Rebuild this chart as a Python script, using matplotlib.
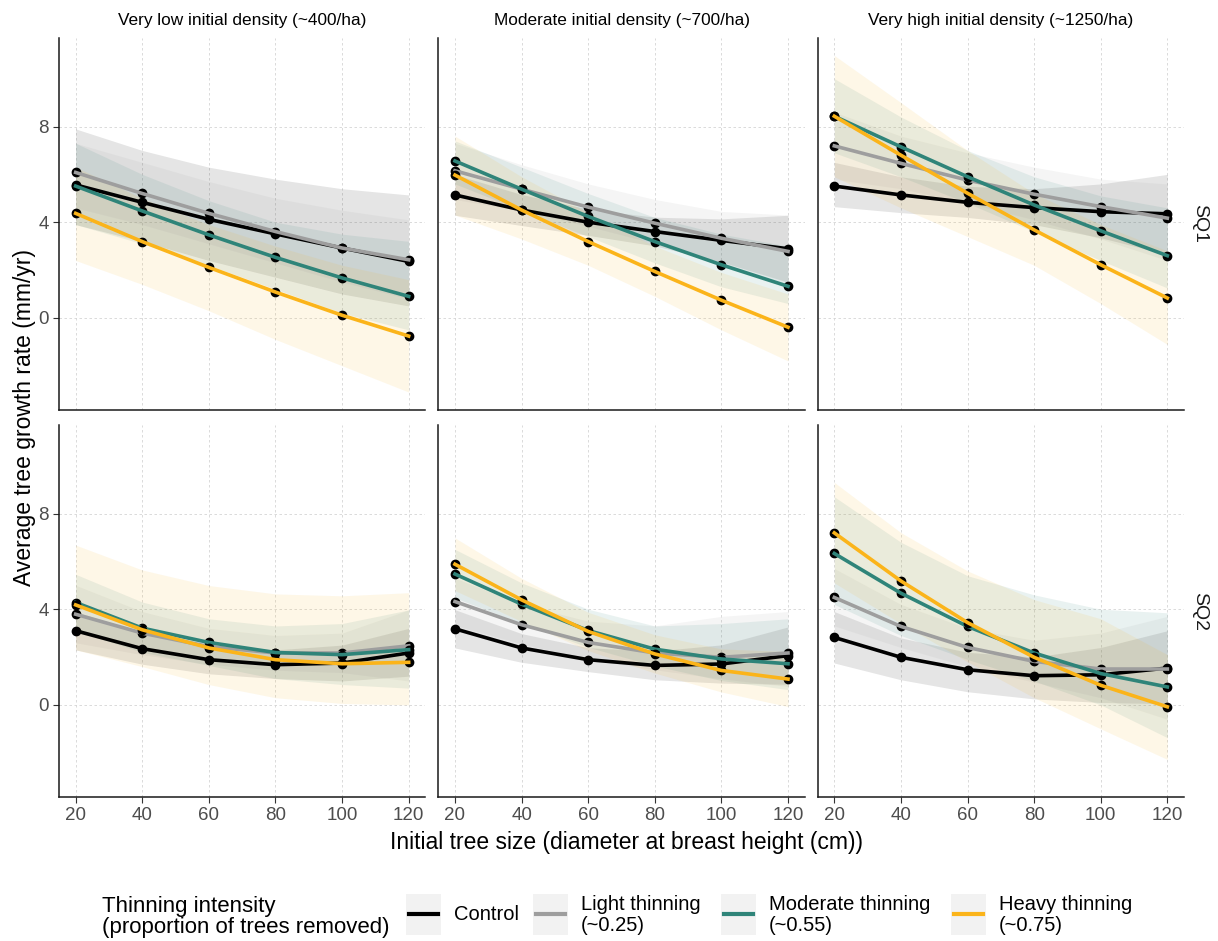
import matplotlib
matplotlib.use('Agg')
import matplotlib.pyplot as plt
from matplotlib.patches import Rectangle
from matplotlib.lines import Line2D

plt.rcParams['font.family'] = ['Liberation Sans', 'DejaVu Sans']

dbh = [20, 40, 60, 80, 100, 120]
groups = ['Control', 'Light thinning\n(~0.25)', 'Moderate thinning\n(~0.55)', 'Heavy thinning\n(~0.75)']
colours = ['#000000', '#9e9e9e', '#2f8479', '#fbb41a']
densities = ['Very low initial density (~400/ha)', 'Moderate initial density (~700/ha)',
             'Very high initial density (~1250/ha)']
site_quality = ['SQ1', 'SQ2']

# fitted growth (mm/yr): rows = control, light, moderate, heavy
sq1_low = [[5.56, 4.83, 4.12, 3.51, 2.92, 2.36],
           [6.08, 5.20, 4.37, 3.61, 2.92, 2.43],
           [5.51, 4.47, 3.47, 2.53, 1.67, 0.90],
           [4.37, 3.19, 2.11, 1.08, 0.11, -0.76]]
sq1_low_lo = [[3.90, 3.20, 2.40, 1.70, 1.00, 0.50],
              [4.60, 3.90, 3.10, 2.30, 1.50, 0.80],
              [3.90, 3.10, 2.20, 1.20, 0.20, -0.50],
              [2.40, 1.40, 0.30, -0.90, -2.00, -3.10]]
sq1_low_hi = [[7.90, 7.00, 6.30, 5.80, 5.40, 5.14],
              [7.30, 6.50, 5.70, 5.00, 4.50, 4.10],
              [7.30, 6.00, 4.90, 4.00, 3.50, 3.20],
              [6.30, 5.00, 3.90, 3.00, 2.20, 1.60]]

sq1_mod = [[5.14, 4.51, 4.00, 3.61, 3.24, 2.89],
           [6.15, 5.38, 4.63, 3.96, 3.33, 2.78],
           [6.56, 5.38, 4.24, 3.19, 2.22, 1.32],
           [5.97, 4.51, 3.19, 1.94, 0.74, -0.39]]
sq1_mod_lo = [[4.29, 3.86, 3.45, 3.01, 2.34, 1.49],
              [4.95, 4.48, 3.83, 3.11, 2.23, 1.28],
              [5.60, 4.50, 3.40, 2.30, 1.30, 0.60],
              [4.30, 3.30, 2.20, 0.90, -0.50, -1.80]]
sq1_mod_hi = [[5.99, 5.16, 4.55, 4.21, 4.14, 4.29],
              [7.30, 6.40, 5.60, 4.95, 4.45, 4.30],
              [7.40, 6.30, 5.20, 4.20, 3.50, 3.00],
              [7.60, 5.90, 4.40, 3.00, 1.90, 1.00]]

sq1_high = [[5.51, 5.14, 4.83, 4.61, 4.44, 4.35],
            [7.19, 6.46, 5.76, 5.17, 4.65, 4.17],
            [8.43, 7.15, 5.90, 4.72, 3.64, 2.60],
            [8.43, 6.80, 5.21, 3.68, 2.22, 0.83]]
sq1_high_lo = [[4.65, 4.40, 4.20, 3.90, 3.35, 2.65],
               [5.80, 5.40, 4.80, 4.10, 3.30, 2.40],
               [6.90, 5.90, 4.80, 3.60, 2.40, 1.25],
               [5.90, 4.60, 3.40, 2.20, 0.60, -1.11]]
sq1_high_hi = [[6.50, 5.90, 5.50, 5.40, 5.60, 6.00],
               [8.60, 7.60, 6.90, 6.30, 5.80, 5.60],
               [10.00, 8.40, 7.00, 5.90, 5.10, 4.60],
               [10.97, 9.00, 7.00, 5.20, 3.90, 2.80]]

sq2_low = [[3.10, 2.35, 1.89, 1.68, 1.75, 2.17],
           [3.79, 3.00, 2.44, 2.17, 2.17, 2.47],
           [4.28, 3.21, 2.61, 2.19, 2.10, 2.31],
           [4.18, 3.14, 2.38, 1.89, 1.72, 1.78]]
sq2_low_lo = [[2.30, 1.70, 1.30, 1.10, 1.00, 1.20],
              [2.60, 2.10, 1.70, 1.45, 1.35, 1.00],
              [3.10, 2.20, 1.65, 1.10, 0.85, 0.70],
              [2.30, 1.60, 0.85, 0.30, 0.06, 0.00]]
sq2_low_hi = [[3.90, 3.00, 2.50, 2.30, 2.50, 3.20],
              [5.00, 3.90, 3.20, 2.90, 3.00, 3.97],
              [5.46, 4.30, 3.60, 3.30, 3.40, 3.97],
              [6.68, 5.64, 4.99, 4.64, 4.56, 4.69]]

sq2_mod = [[3.18, 2.38, 1.89, 1.65, 1.71, 2.06],
           [4.32, 3.35, 2.61, 2.17, 1.99, 2.17],
           [5.47, 4.21, 3.11, 2.33, 1.92, 1.72],
           [5.88, 4.39, 3.07, 2.13, 1.44, 1.08]]
sq2_mod_lo = [[2.38, 1.78, 1.39, 1.05, 0.91, 0.86],
              [3.32, 2.55, 1.91, 1.47, 1.09, 0.77],
              [4.47, 3.41, 2.41, 1.63, 1.02, 0.64],
              [4.78, 3.49, 2.27, 1.33, 0.54, -0.07]]
sq2_mod_hi = [[3.98, 2.98, 2.39, 2.25, 2.51, 3.26],
              [5.30, 4.20, 3.50, 3.30, 3.70, 3.90],
              [6.50, 5.10, 4.00, 3.30, 3.40, 3.60],
              [6.98, 5.29, 3.87, 2.93, 2.34, 2.23]]

sq2_high = [[2.82, 1.99, 1.47, 1.22, 1.26, 1.54],
            [4.49, 3.28, 2.40, 1.82, 1.50, 1.50],
            [6.33, 4.67, 3.28, 2.17, 1.31, 0.75],
            [7.19, 5.18, 3.44, 1.99, 0.82, -0.08]]
sq2_high_lo = [[1.75, 1.05, 0.55, 0.25, 0.10, 0.05],
               [3.30, 2.40, 1.60, 0.95, 0.30, -0.60],
               [4.20, 2.90, 1.90, 1.00, 0.00, -1.37],
               [5.10, 3.40, 1.80, 0.30, -1.00, -2.28]]
sq2_high_hi = [[3.90, 2.80, 2.20, 2.00, 2.40, 3.10],
               [5.70, 4.20, 3.20, 2.70, 3.00, 3.70],
               [8.70, 6.80, 5.40, 4.60, 4.00, 3.85],
               [9.30, 7.20, 5.60, 4.40, 3.60, 2.10]]

means = [[sq1_low, sq1_mod, sq1_high], [sq2_low, sq2_mod, sq2_high]]
lows = [[sq1_low_lo, sq1_mod_lo, sq1_high_lo], [sq2_low_lo, sq2_mod_lo, sq2_high_lo]]
highs = [[sq1_low_hi, sq1_mod_hi, sq1_high_hi], [sq2_low_hi, sq2_mod_hi, sq2_high_hi]]

W, H = 1218, 941
fig, axes = plt.subplots(2, 3, figsize=(W / 100, H / 100), dpi=100, sharex=True, sharey=True)
fig.subplots_adjust(left=59 / W, right=1184 / W, top=1 - 38 / H, bottom=1 - 797 / H,
                    wspace=13 / 366, hspace=15 / 372)

for r in range(2):
    for c in range(3):
        ax = axes[r][c]
        ax.set_axisbelow(True)
        ax.grid(True, color='#d4d4d4', lw=0.6, ls=(0, (3, 3)))
        for g in range(4):
            ax.fill_between(dbh, lows[r][c][g], highs[r][c][g], color=colours[g],
                            alpha=0.1, lw=0, zorder=1)
        for g in range(4):
            ax.plot(dbh, means[r][c][g], 'o', color='black', ms=6, zorder=2 + g)
            ax.plot(dbh, means[r][c][g], '-', color=colours[g], lw=2.6, zorder=2 + g)
        ax.set_xlim(15, 125)
        ax.set_ylim(-3.85, 11.7)
        ax.set_xticks(dbh)
        ax.set_yticks([0, 4, 8])
        for side in ['top', 'right']:
            ax.spines[side].set_visible(False)
        for side in ['left', 'bottom']:
            ax.spines[side].set_linewidth(1.1)
            ax.spines[side].set_color('#1a1a1a')
        ax.tick_params(labelsize=13.5, labelcolor='#4d4d4d', color='#333333', length=4)
        if r == 0:
            ax.tick_params(axis='x', length=0)
            ax.set_title(densities[c], fontsize=12.4, pad=9)
        if c > 0:
            ax.tick_params(axis='y', length=0)
        if c == 2:
            ax.text(1.044, 0.5, site_quality[r], rotation=270, transform=ax.transAxes,
                    ha='center', va='center', fontsize=14, color='#1a1a1a')

fig.text(25 / W, 1 - 417 / H, 'Average tree growth rate (mm/yr)', rotation=90,
         ha='center', va='center', fontsize=16.5)
fig.text(627 / W, 1 - 843 / H, 'Initial tree size (diameter at breast height (cm))',
         ha='center', va='center', fontsize=16.5)

# legend, drawn by hand so the keys match the ggplot look
fig.text(102 / W, 1 - 917 / H, 'Thinning intensity\n(proportion of trees removed)',
         ha='left', va='center', fontsize=16, linespacing=1.05)
key_x = [406, 533, 721, 951]
for g in range(4):
    x0 = key_x[g]
    fig.patches.append(Rectangle((x0 / W, 1 - 935 / H), 35 / W, 41 / H,
                                 transform=fig.transFigure, facecolor='#f2f2f2',
                                 edgecolor='none'))
    fig.lines.append(Line2D([(x0 + 3) / W, (x0 + 32) / W], [1 - 914 / H, 1 - 914 / H],
                            transform=fig.transFigure, color=colours[g], lw=3))
    fig.text((x0 + 48) / W, 1 - 915 / H, groups[g], ha='left', va='center',
             fontsize=14.5, linespacing=1.1)

fig.savefig('out.png', dpi=100)
